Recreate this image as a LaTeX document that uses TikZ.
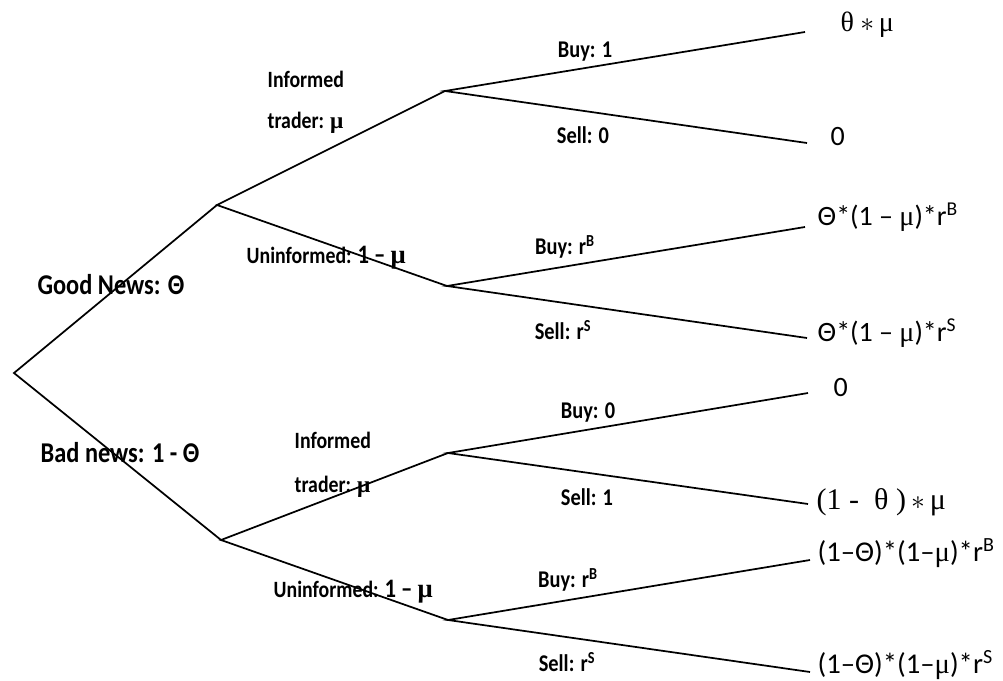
\documentclass[tikz,border=0pt]{standalone}
\usepackage{fontspec}
\setmainfont{Carlito}
\newfontfamily\lblfont[FakeStretch=0.85]{Carlito}
\newfontfamily\serifgreek{Liberation Serif}
\usetikzlibrary{positioning}

\newcommand{\smu}{{\serifgreek μ}}

\begin{document}
\begin{tikzpicture}[x=0.75pt,y=0.75pt,yscale=-1,xscale=1,
  branch/.style={line width=1.3pt},
  choice/.style={font=\fontsize{18}{21}\lblfont\bfseries},
  trader/.style={font=\fontsize{17.5}{21}\lblfont\bfseries,align=left,anchor=west},
  news/.style={font=\fontsize{21.5}{25}\lblfont\bfseries},
  payoff/.style={font=\fontsize{21}{25}\selectfont,anchor=west}]
\useasboundingbox (0,0) rectangle (1003,681);

%Points of the tree
\coordinate (root) at (14,373);
\coordinate (good) at (217,205);
\coordinate (bad) at (221,540);
\coordinate (gInf) at (445,91);
\coordinate (gUni) at (447,286);
\coordinate (bInf) at (448,453);
\coordinate (bUni) at (448,620);

%Ends of the branches
\coordinate (gInfBuy) at (805,32);
\coordinate (gInfSell) at (807,143);
\coordinate (gUniBuy) at (805,227);
\coordinate (gUniSell) at (807,338);
\coordinate (bInfBuy) at (808,393);
\coordinate (bInfSell) at (808,504);
\coordinate (bUniBuy) at (810,560);
\coordinate (bUniSell) at (810,672);

%Straight Lines
\draw [branch] (good) -- (root) -- (bad) ;
\draw [branch] (gInf) -- (good) -- (gUni) ;
\draw [branch] (bInf) -- (bad) -- (bUni) ;

%Straight Lines
\draw [branch] (gInfBuy) -- (gInf) -- (gInfSell) ;
\draw [branch] (gUniBuy) -- (gUni) -- (gUniSell) ;
\draw [branch] (bInfBuy) -- (bInf) -- (bInfSell) ;
\draw [branch] (bUniBuy) -- (bUni) -- (bUniSell) ;

% Text Node
\node [news] (goodTxt) at (111,285) {Good News: Θ};
% Text Node
\node [news] (badTxt) at (120,453) {Bad news: 1 - Θ};

% Text Node
\node [trader] (gInfTxt) at (263,102) {Informed\\[10pt]trader: \smu};
% Text Node
\node [trader] (gUniTxt) at (242,258) {Uninformed: {\fontsize{20}{24}\selectfont 1 – \smu}};
% Text Node
\node [trader] (bInfTxt) at (290,465) {Informed\\[12pt]trader: \smu};
% Text Node
\node [trader] (bUniTxt) at (269,592) {Uninformed: {\fontsize{20}{24}\selectfont 1 – \smu}};

% Text Node
\node [choice] (gInfBuyTxt) at (585,52) {Buy: 1};
% Text Node
\node [choice] (gInfSellTxt) at (583,135) {Sell: 0};
% Text Node
\node [choice] (gUniBuyTxt) at (565,247) {Buy: r\textsuperscript{B}};
% Text Node
\node [choice] (gUniSellTxt) at (563,330) {Sell: r\textsuperscript{S}};
% Text Node
\node [choice] (bInfBuyTxt) at (588,413) {Buy: 0};
% Text Node
\node [choice] (bInfSellTxt) at (587,497) {Sell: 1};
% Text Node
\node [choice] (bUniBuyTxt) at (568,580) {Buy: r\textsuperscript{B}};
% Text Node
\node [choice] (bUniSellTxt) at (567,662) {Sell: r\textsuperscript{S}};

% Text Node
\node [payoff] (gInfBuyPay) at (836,25) {{\serifgreek θ} $\ast$\,{\serifgreek μ}};
% Text Node
\node [payoff] (gInfSellPay) at (826,137) {0};
% Text Node
\node [payoff] (gUniBuyPay) at (813,217) {Θ*(1 – \smu)*r\textsuperscript{B}};
% Text Node
\node [payoff] (gUniSellPay) at (813,333) {Θ*(1 – \smu)*r\textsuperscript{S}};
% Text Node
\node [payoff] (bInfBuyPay) at (829,388) {0};
% Text Node
\node [payoff,font=\fontsize{22.5}{26}\selectfont] (bInfSellPay) at (812,502) {{\serifgreek (1 -\ \ θ\ )\,}$\ast$\,{\serifgreek μ}};
% Text Node
\node [payoff,font=\fontsize{21.5}{26}\selectfont] (bUniBuyPay) at (813,553) {(1–Θ)*(1–\smu)*r\textsuperscript{B}};
% Text Node
\node [payoff,font=\fontsize{21.5}{26}\selectfont] (bUniSellPay) at (813,665) {(1–Θ)*(1–\smu)*r\textsuperscript{S}};

\end{tikzpicture}
\end{document}
